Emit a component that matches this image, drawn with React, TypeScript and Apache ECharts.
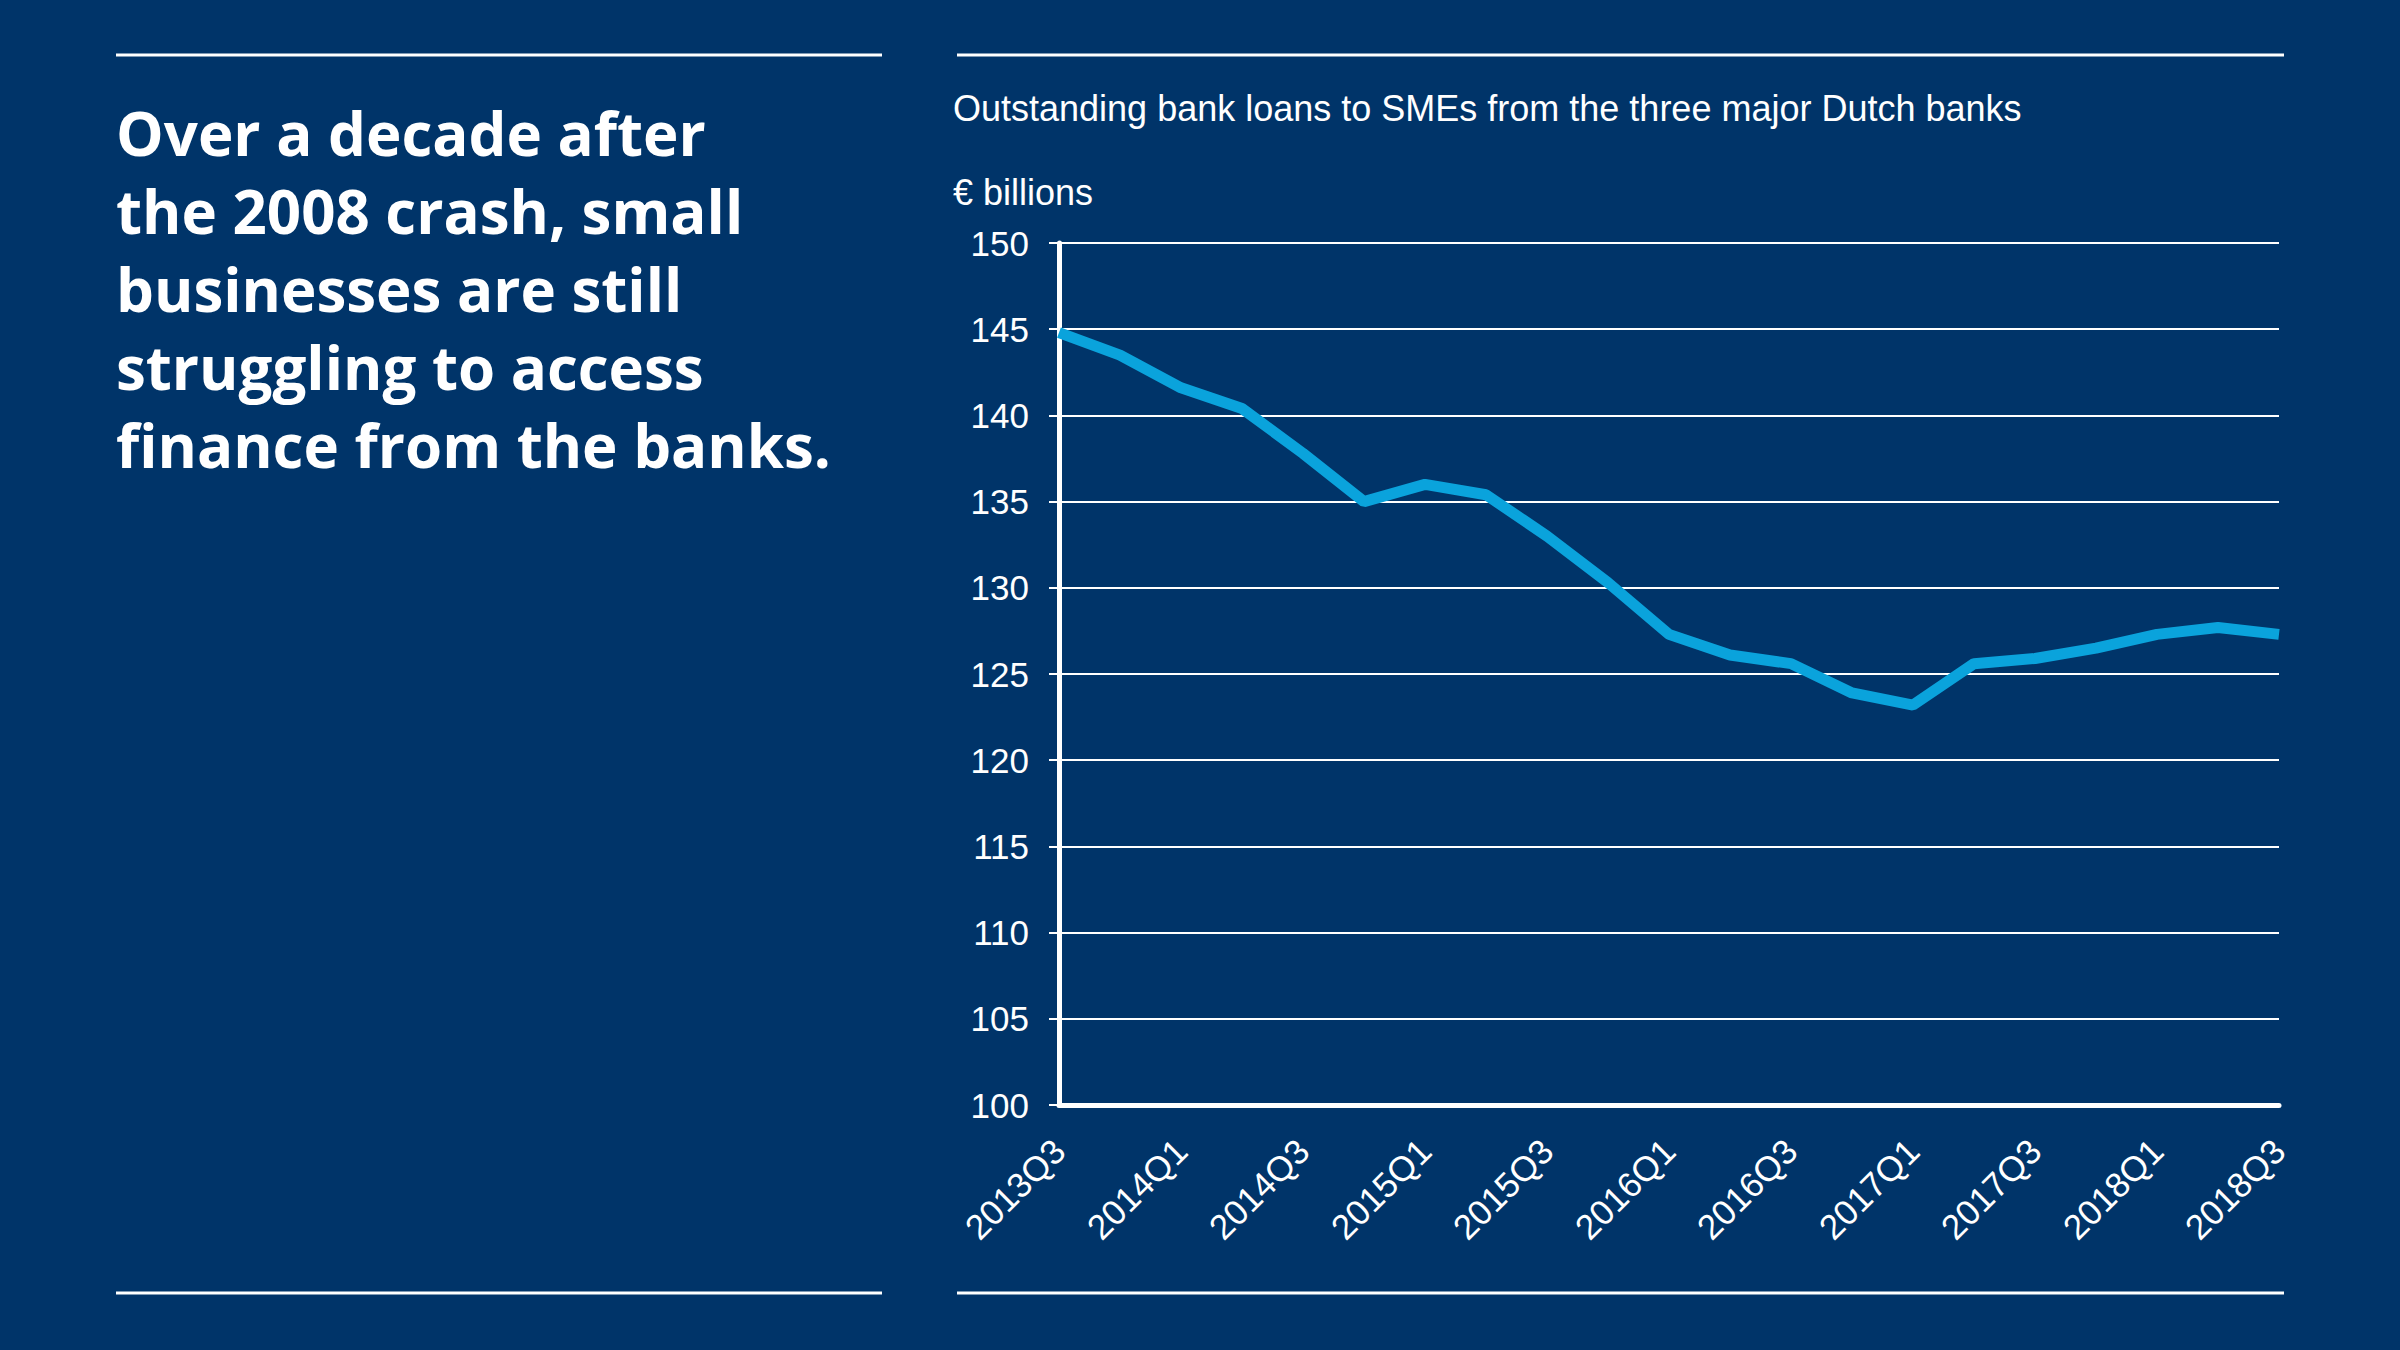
import React, { useEffect, useRef } from 'react';
import * as echarts from 'echarts';

const quarters = [
  '2013Q3', '2013Q4', '2014Q1', '2014Q2', '2014Q3', '2014Q4', '2015Q1', '2015Q2', '2015Q3', '2015Q4',
  '2016Q1', '2016Q2', '2016Q3', '2016Q4', '2017Q1', '2017Q2', '2017Q3', '2017Q4', '2018Q1', '2018Q2', '2018Q3',
];
const loans = [
  144.8, 143.5, 141.6, 140.4, 137.8, 135.0, 136.0, 135.4, 133.0, 130.3,
  127.3, 126.1, 125.6, 123.9, 123.2, 125.6, 125.9, 126.5, 127.3, 127.7, 127.3,
];
const headline = [
  'Over a decade after',
  'the 2008 crash, small',
  'businesses are still',
  'struggling to access',
  'finance from the banks.',
];

const BG = '#003469';
const LINE = '#0aa3dc';

const App: React.FC = () => {
  const ref = useRef<HTMLDivElement>(null);

  useEffect(() => {
    if (!ref.current) return;
    const chart = echarts.init(ref.current, undefined, { renderer: 'svg' });
    const rule = (x1: number, x2: number, y: number) => ({
      type: 'line',
      shape: { x1, y1: y, x2, y2: y },
      style: { stroke: '#ffffff', lineWidth: 3 },
    });
    chart.setOption({
      animation: false,
      backgroundColor: BG,
      textStyle: { fontFamily: 'Liberation Sans, Arial, sans-serif' },
      graphic: [
        rule(116, 882, 55),
        rule(957, 2284, 55),
        rule(116, 882, 1293),
        rule(957, 2284, 1293),
        {
          type: 'text',
          left: 116,
          top: 94,
          style: {
            text: headline.join('\n'),
            fill: '#ffffff',
            font: 'bold 60px "Open Sans", Lato, sans-serif',
            lineHeight: 78,
          },
        },
        {
          type: 'text',
          left: 953,
          top: 90,
          style: { text: 'Outstanding bank loans to SMEs from the three major Dutch banks', fill: '#ffffff', font: '36px "Liberation Sans", Arial, sans-serif' },
        },
        {
          type: 'text',
          left: 953,
          top: 174,
          style: { text: '€ billions', fill: '#ffffff', font: '36px "Liberation Sans", Arial, sans-serif' },
        },
      ],
      grid: { left: 1059, top: 243, right: 121, bottom: 245 },
      xAxis: {
        type: 'category',
        data: quarters,
        boundaryGap: false,
        axisLine: { lineStyle: { color: '#ffffff', width: 5 } },
        axisTick: { show: false },
        axisLabel: { interval: 1, rotate: 45, color: '#ffffff', fontSize: 35, margin: 40 },
      },
      yAxis: {
        type: 'value',
        min: 100,
        max: 150,
        interval: 5,
        axisLine: { show: true, lineStyle: { color: '#ffffff', width: 5 } },
        axisTick: { show: true, length: 10, lineStyle: { color: '#ffffff', width: 2 } },
        axisLabel: { color: '#ffffff', fontSize: 35, margin: 30 },
        splitLine: { lineStyle: { color: '#ffffff', width: 2 } },
      },
      series: [
        {
          type: 'line',
          data: loans,
          symbol: 'none',
          lineStyle: { color: LINE, width: 11 },
        },
      ],
    });
    return () => chart.dispose();
  }, []);

  return <div ref={ref} style={{ position: 'fixed', left: 0, top: 0, width: 2400, height: 1350 }} />;
};

export default App;
